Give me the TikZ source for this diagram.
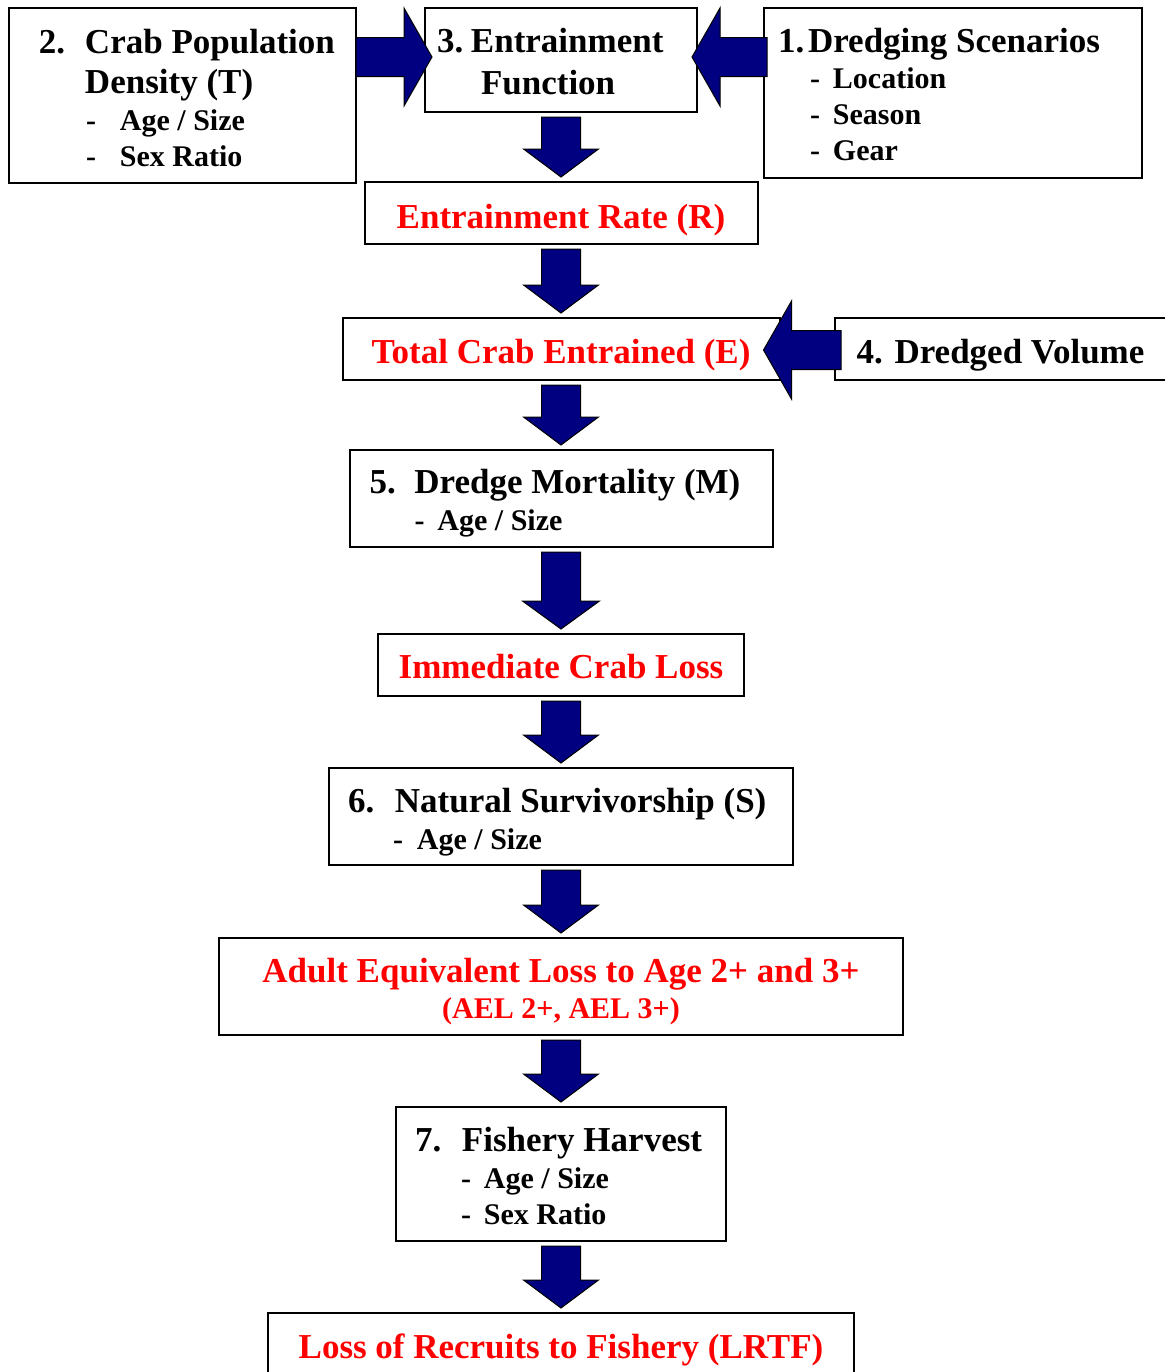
\documentclass[tikz,border=0pt]{standalone}
\usepackage{fontspec}
\setmainfont{Liberation Serif}
\usepackage{tikz}
\usetikzlibrary{calc}
\definecolor{navy}{rgb}{0, 0, 0.5}
\definecolor{lossred}{rgb}{1, 0, 0}
\newcommand{\tfont}{\fontsize{17.5}{20.5}\selectfont\bfseries}
\newcommand{\sfont}{\fontsize{15}{18}\selectfont}
\newcommand{\dashitem}[3]{\hspace*{#1}{\sfont\makebox[#2][l]{-}#3}}
\tikzstyle{box}=[draw=black,line width=1pt,fill=white,outer sep=2.5pt,inner ysep=0pt,font=\tfont]
\tikzstyle{redbox}=[box,text=lossred,align=flush center,inner xsep=0pt,text height=23pt,text depth=8pt]
\tikzstyle{listbox}=[box,align=flush left]
\tikzstyle{blockfill}=[fill=navy,draw=black,line width=0.5pt,line join=miter]
\newcommand{\blockarrow}[3]{
  \coordinate (hb) at ($(#2)!14pt!(#1)$);
  \draw[blockfill] ($(#1)!9.75pt!90:(#2)$) -- ($(hb)!9.75pt!-90:(#1)$)
    -- ($(hb)!#3!-90:(#1)$) -- (#2) -- ($(hb)!#3!90:(#1)$)
    -- ($(hb)!9.75pt!90:(#1)$) -- ($(#1)!9.75pt!-90:(#2)$) -- cycle;
}

\begin{document}
\begin{tikzpicture}[x=0.5pt,y=-0.5pt]
\useasboundingbox (0,0) rectangle (1164,1372);

% input boxes along the top
\node[listbox,minimum width=173.5pt,inner xsep=6pt,text width=161.5pt,text height=22.5pt,text depth=65pt] (pop) at (182.5,95.5)
  {\hspace*{9pt}\makebox[23pt][l]{2.}Crab Population\\[-0.5pt]
   \hspace*{32pt}Density (T)\\[-2pt]
   \dashitem{32.5pt}{17pt}{Age / Size}\\[-2.5pt]
   \dashitem{32.5pt}{17pt}{Sex Ratio}};
\node[listbox,minimum width=136pt,inner xsep=6pt,text width=124pt,text height=22pt,text depth=30pt] (func) at (561,60)
  {\makebox[17pt][l]{3.}Entrainment\\[0.5pt]
   \hspace*{22pt}Function};
\node[listbox,minimum width=189pt,inner xsep=7pt,text width=175pt,text height=22pt,text depth=63pt] (scen) at (953,93)
  {\makebox[15pt][l]{1.}Dredging Scenarios\\[-2.5pt]
   \dashitem{16pt}{11.5pt}{Location}\\[-2.5pt]
   \dashitem{16pt}{11.5pt}{Season}\\[-2.5pt]
   \dashitem{16pt}{11.5pt}{Gear}};

% main chain
\node[redbox,minimum width=196.5pt,text width=196.5pt] (rate) at (561,213) {Entrainment Rate (R)};
\node[redbox,minimum width=218.5pt,text width=218.5pt,text height=22.5pt,text depth=8.5pt] (total) at (561,349) {Total Crab Entrained (E)};
\node[redbox,text=black,minimum width=165.5pt,text width=165.5pt,text height=22.5pt,text depth=8.5pt] (vol) at (1000.5,349) {4. Dredged Volume};
\node[listbox,minimum width=211.5pt,inner xsep=10pt,text width=191.5pt,text height=21.5pt,text depth=27pt] (mort) at (561,498.5)
  {\makebox[22.5pt][l]{5.}Dredge Mortality (M)\\[-2pt]
   \dashitem{22.5pt}{11.5pt}{Age / Size}};
\node[redbox,minimum width=183pt,text width=183pt,text height=22pt,text depth=9pt] (loss) at (561,665) {Immediate Crab Loss};
\node[listbox,minimum width=232pt,inner xsep=9.5pt,text width=213pt,text height=22pt,text depth=26.5pt] (surv) at (561,816.5)
  {\makebox[23.5pt][l]{6.}Natural Survivorship (S)\\[-2pt]
   \dashitem{22.5pt}{12pt}{Age / Size}};
\node[redbox,minimum width=342pt,text width=342pt,text height=22pt,text depth=26.5pt] (ael) at (561,986.5)
  {Adult Equivalent Loss to Age 2+ and 3+\\[-2.5pt]
   {\sfont (AEL 2+, AEL 3+)}};
\node[listbox,minimum width=165pt,inner xsep=9.5pt,text width=146pt,text height=22pt,text depth=45pt] (harv) at (561,1174)
  {\makebox[23.5pt][l]{7.}Fishery Harvest\\[-2pt]
   \dashitem{23pt}{11.5pt}{Age / Size}\\[-2.5pt]
   \dashitem{23pt}{11.5pt}{Sex Ratio}};
\node[redbox,minimum width=293pt,text width=293pt,text height=22.5pt,text depth=8.5pt] (lrtf) at (561,1344) {Loss of Recruits to Fishery (LRTF)};

% side arrows
\coordinate (inl) at ($(func.west)+(12,-3)$);
\coordinate (outpop) at ($(pop.east |- inl)+(-5,0)$);
\blockarrow{outpop}{inl}{24.5pt};
\coordinate (inr) at ($(func.east)+(-10,-3)$);
\coordinate (outscen) at ($(scen.west |- inr)+(8,0)$);
\blockarrow{outscen}{inr}{24.5pt};
\coordinate (intot) at ($(total.east)+(-21,1)$);
\coordinate (outvol) at ($(vol.west |- intot)+(11,0)$);
\blockarrow{outvol}{intot}{24.5pt};

% down arrows
\blockarrow{func.south}{rate.north}{18.75pt};
\blockarrow{rate.south}{total.north}{18.75pt};
\blockarrow{total.south}{mort.north}{18.75pt};
\blockarrow{mort.south}{loss.north}{19.25pt};
\blockarrow{loss.south}{surv.north}{18.75pt};
\blockarrow{surv.south}{ael.north}{18.75pt};
\blockarrow{ael.south}{harv.north}{18.75pt};
\blockarrow{harv.south}{lrtf.north}{18.75pt};

\end{tikzpicture}
\end{document}
